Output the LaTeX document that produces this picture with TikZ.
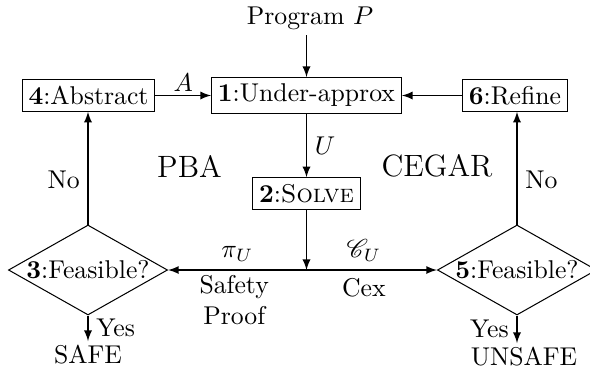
\documentclass[tikz,border=0pt]{standalone}
\usepackage{mathrsfs}
\usetikzlibrary{shapes.geometric,arrows.meta}
\begin{document}
\begin{tikzpicture}[x=0.389pt,y=-0.389pt,
  box/.style={draw, inner sep=2.5pt, line width=0.4pt},
  dia/.style={draw, diamond, aspect=1.77, inner sep=0pt, minimum width=61.9pt, minimum height=35pt, line width=0.4pt},
  lbl/.style={inner sep=1.5pt},
  arr/.style={-latex, line width=0.45pt}]
\useasboundingbox (0,0) rectangle (590,369);
\node[inner sep=2pt] (prog) at (310,18) {Program $P$};
\node[box] (b1) at (306.5,95.5) {\textbf{1}:Under-approx};
\node[box] (b4) at (88.5,95.5) {\textbf{4}:Abstract};
\node[box] (b6) at (515,95.5) {\textbf{6}:Refine};
\node[box] (b2) at (306.5,193.5) {\textbf{2}:\textsc{Solve}};
\coordinate (J) at (306.5,270);
\node[dia] (d3) at (88,270) {\textbf{3}:Feasible?};
\node[dia] (d5) at (517,270) {\textbf{5}:Feasible?};
\node[lbl] (safe) at (88,355) {SAFE};
\node[lbl] (unsafe) at (524,357) {UNSAFE};
\node[font=\large] (pba) at (189.5,166) {PBA};
\node[font=\large] (cegar) at (437,166) {CEGAR};

\draw[arr] (b1.north |- prog.south) -- (b1.north);
\draw[arr] (b4) -- node[above, inner sep=1.5pt] {$A$} (b1);
\draw[arr] (b6) -- (b1);
\draw[arr] (b1) -- node[right, inner sep=3pt] {$U$} (b2);
\draw[arr] (b2) -- (J);
\draw[arr] (J) -- node[above, inner sep=3pt] {$\pi_U$}
  node[below, align=center, inner sep=2pt, xshift=-1.2pt] {Safety\\Proof} (d3);
\draw[arr] (J) -- node[pos=0.44, above, inner sep=3pt] {$\mathscr{C}_U$}
  node[pos=0.44, below, inner sep=3pt] {Cex} (d5);
\draw[arr] (d3.north) -- node[left, pos=0.4, inner sep=3pt] {No} (d3.north |- b4.south);
\draw[arr] (d5.north) -- node[right, pos=0.4, inner sep=3pt] {No} (d5.north |- b6.south);
\draw[arr] (d3.south) -- node[right, inner sep=3pt] {Yes} (safe.north);
\draw[arr] (d5.south) -- node[left, inner sep=3pt] {Yes} (d5.south |- unsafe.north);
\end{tikzpicture}
\end{document}
